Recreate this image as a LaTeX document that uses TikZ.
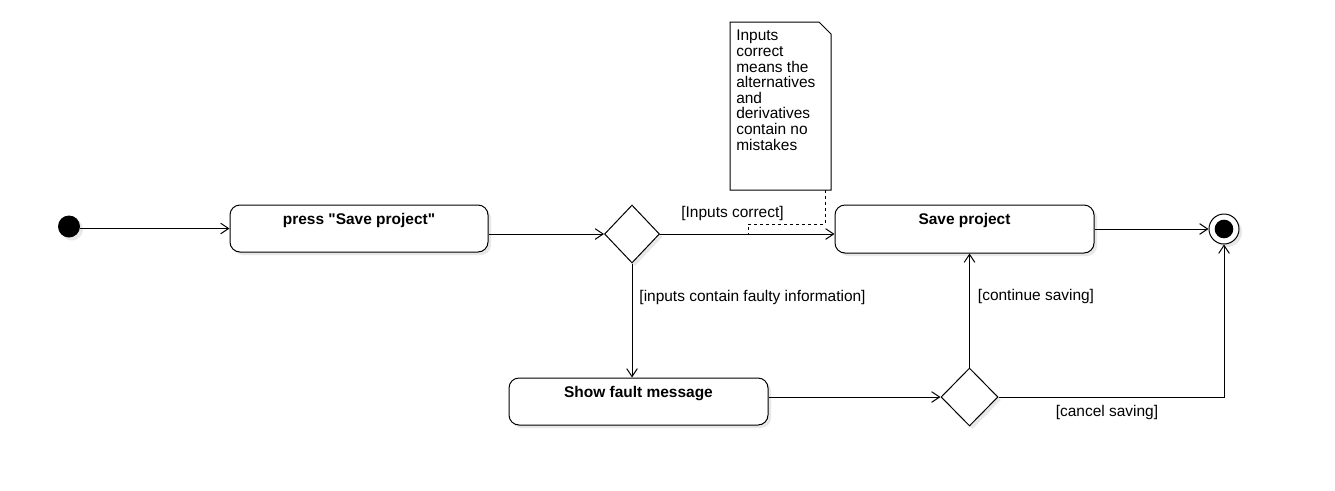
\documentclass[tikz,border=0pt]{standalone}
\usepackage{fontspec}
\newfontfamily\umlfont{Liberation Sans}
\usetikzlibrary{arrows.meta,shapes.geometric,shadows}

\tikzset{
	flow/.style={-{Straight Barb[length=6pt,width=8pt]}, line width=0.75pt},
	shade box/.style={drop shadow={shadow xshift=2.25pt, shadow yshift=-2.25pt, fill=black!9, opacity=1}},
	actbox/.style={draw, line width=0.75pt, rounded corners=7.5pt, fill=white, shade box,
		minimum width=193.5pt, minimum height=35.25pt},
	boxtext/.style={font=\umlfont\fontsize{11.6}{11.7}\selectfont\bfseries, inner sep=0pt},
	decision/.style={draw, diamond, line width=0.75pt, fill=white, shade box, inner sep=0pt},
	guard/.style={font=\umlfont\fontsize{11.6}{11.7}\selectfont, inner sep=0pt}
}

\begin{document}
\begin{tikzpicture}[x=0.75pt,y=-0.75pt]
			\useasboundingbox (0,0) rectangle (1335,490);
			% nodes
			\node[circle, fill=black, inner sep=0pt, minimum size=16.5pt, shade box] (start) at (69,226.5) {};
			\node[actbox] (press) at (359,228.5) {};
			\node[boxtext] (presstext) at ([yshift=-12.2pt]press.north) {press "Save project"};
			\node[decision, minimum width=41.25pt, minimum height=43.5pt] (dec1) at (632,234) {};
			\node[actbox, minimum width=194.25pt, minimum height=36pt] (save) at (964.5,229) {};
			\node[boxtext] (savetext) at ([yshift=-12.2pt]save.north) {Save project};
			\node[circle, draw, line width=0.75pt, fill=white, inner sep=0pt, minimum size=22.5pt, shade box] (final) at (1224,229) {};
			\node[circle, fill=black, inner sep=0pt, minimum size=14pt] (finaldot) at (final) {};
			\node[actbox, minimum width=194.25pt] (fault) at (638.5,401.5) {};
			\node[boxtext] (faulttext) at ([yshift=-12.2pt]fault.north) {Show fault message};
			\node[decision, minimum width=42.75pt, minimum height=43.5pt] (dec2) at (969.5,397) {};

			% note
			\draw[line width=0.75pt, fill=white] (730,22) -- (819,22) -- (831,34) -- (831,190) -- (730,190) -- cycle;
			\node[guard, anchor=north west, align=left] (notetext) at (736,30)
				{Inputs\\correct\\means the\\alternatives\\and\\derivatives\\contain no\\mistakes};
			\coordinate (notefoot) at (825,190);
			\coordinate (notebend) at (748,224);
			\coordinate (noteend) at (748,234);
			\draw[dashed, dash pattern=on 2.25pt off 2.25pt, line width=0.75pt] (notefoot) |- (notebend) -- (noteend);

			% connectors
			\draw[flow] (start.east |- press) -- (press.west);
			\draw[flow] (press.east |- dec1) -- (dec1.west);
			\draw[flow] (dec1.east) -- (dec1 -| save.west);
			\draw[flow] (save.east) -- (final.west);
			\draw[flow] (dec1.south) -- (dec1 |- fault.north);
			\draw[flow] (fault.east |- dec2) -- (dec2.west);
			\draw[flow] (dec2.north) -- (dec2 |- save.south);
			\draw[flow] (dec2.east) -| (final.south);

			% guards
			\node[guard] (lblcorrect) at (732.5,213) {[Inputs correct]};
			\node[guard] (lblfaulty) at (752.5,297) {[inputs contain faulty information]};
			\node[guard] (lblcontinue) at (1036,296) {[continue saving]};
			\node[guard] (lblcancel) at (1107,412) {[cancel saving]};
		\end{tikzpicture}
\end{document}
